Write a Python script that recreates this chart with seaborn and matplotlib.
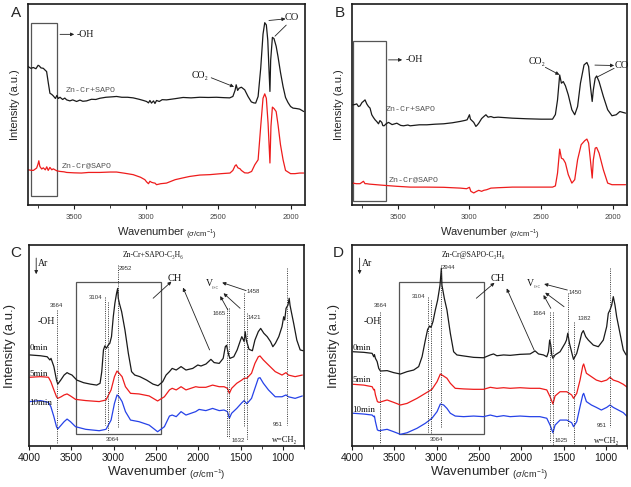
import matplotlib
matplotlib.use('Agg')
import matplotlib.pyplot as plt
import seaborn as sns
import pandas as pd
from matplotlib.patches import Rectangle

# ---- panel A: CO adsorption (black = Zn-Cr+SAPO, red = Zn-Cr@SAPO) ----
a_wn_k = [3820, 3800, 3783, 3765, 3750, 3742, 3730, 3714, 3700, 3691,
          3679, 3668, 3655, 3645, 3630, 3620, 3610, 3598, 3580, 3565,
          3552, 3530, 3510, 3483, 3460, 3440, 3414, 3380, 3350, 3322,
          3280, 3240, 3206, 3170, 3130, 3091, 3050, 3020, 2998, 2985,
          2975, 2964, 2950, 2940, 2929, 2910, 2890, 2860, 2800, 2745,
          2690, 2629, 2570, 2514, 2460, 2422, 2400, 2385, 2377, 2367,
          2357, 2341, 2318, 2295, 2272, 2255, 2242, 2225, 2207, 2191,
          2179, 2168, 2158, 2150, 2143, 2138, 2126, 2115, 2100, 2087,
          2070, 2052, 2035, 2018, 2000, 1983, 1960, 1937, 1920, 1909]
a_int_k = [68.9, 68.0, 68.4, 67.8, 69.5, 69.2, 68.2, 68.0, 67.0, 66.4,
           60.6, 55.6, 55.0, 54.3, 53.0, 54.5, 53.0, 53.6, 52.5, 53.2,
           52.3, 51.8, 52.3, 51.5, 52.2, 51.6, 51.8, 52.6, 52.5, 53.1,
           53.6, 53.8, 54.0, 53.6, 53.6, 53.3, 52.6, 52.0, 51.5, 50.8,
           52.0, 50.7, 51.8, 50.5, 52.0, 51.5, 52.4, 52.3, 52.9, 53.5,
           53.3, 53.6, 53.5, 53.6, 53.4, 53.3, 54.0, 57.0, 59.8, 57.0,
           58.1, 58.6, 57.3, 54.0, 51.3, 50.8, 50.7, 54.0, 68.0, 85.0,
           90.7, 89.6, 82.0, 68.0, 56.5, 72.0, 83.4, 82.8, 79.0, 73.8,
           66.0, 58.9, 53.5, 51.0, 49.0, 48.2, 48.0, 47.7, 47.0, 46.5]
a_wn_r = [3820, 3800, 3783, 3760, 3750, 3745, 3738, 3725, 3714, 3700,
          3690, 3680, 3668, 3655, 3645, 3620, 3598, 3570, 3552, 3500,
          3450, 3400, 3322, 3250, 3206, 3150, 3091, 3040, 3010, 2998,
          2985, 2975, 2964, 2950, 2940, 2929, 2900, 2860, 2800, 2745,
          2700, 2629, 2560, 2480, 2420, 2400, 2385, 2377, 2365, 2350,
          2341, 2318, 2295, 2270, 2248, 2225, 2207, 2191, 2179, 2168,
          2156, 2143, 2136, 2126, 2115, 2100, 2087, 2070, 2052, 2035,
          2000, 1970, 1937, 1909]
a_int_r = [17.5, 17.3, 17.2, 18.4, 20.5, 22.0, 19.2, 17.9, 18.5, 17.5,
           19.0, 17.2, 18.7, 17.5, 18.0, 17.0, 16.7, 16.5, 16.2, 16.0,
           15.9, 16.2, 16.2, 16.4, 16.4, 15.8, 15.1, 13.8, 12.6, 11.5,
           10.6, 11.8, 11.3, 11.0, 10.9, 10.1, 10.6, 10.9, 12.6, 13.5,
           14.2, 14.9, 15.1, 15.6, 15.9, 17.2, 19.5, 20.0, 18.5, 18.0,
           17.2, 16.0, 15.9, 16.7, 20.0, 22.5, 39.1, 53.1, 55.3, 53.1,
           40.7, 20.9, 39.1, 48.7, 48.0, 46.5, 40.0, 30.0, 22.5, 17.2,
           15.6, 15.6, 15.9, 15.9]

# ---- panel B: CO + CO2 adsorption ----
b_wn_k = [3815, 3800, 3787, 3775, 3764, 3750, 3741, 3729, 3717, 3705,
          3694, 3682, 3670, 3659, 3647, 3635, 3625, 3612, 3605, 3596,
          3580, 3565, 3540, 3507, 3480, 3460, 3430, 3414, 3350, 3297,
          3240, 3180, 3120, 3063, 3030, 3016, 3000, 2993, 2970, 2955,
          2945, 2935, 2915, 2900, 2885, 2870, 2850, 2830, 2800, 2700,
          2600, 2500, 2420, 2400, 2385, 2370, 2358, 2345, 2330, 2310,
          2285, 2265, 2245, 2225, 2200, 2180, 2168, 2155, 2143, 2135,
          2122, 2112, 2095, 2065, 2035, 2005, 1975, 1950, 1910]
b_int_k = [49.8, 50.0, 50.3, 49.0, 49.3, 51.0, 51.5, 52.3, 50.3, 49.0,
           48.2, 44.9, 43.5, 42.4, 41.5, 40.4, 42.0, 41.1, 39.5, 39.4,
           40.5, 41.1, 40.0, 40.7, 39.6, 39.4, 39.8, 39.4, 39.9, 39.9,
           40.2, 40.4, 40.9, 41.6, 42.1, 42.4, 44.9, 42.7, 41.1, 39.1,
           39.8, 40.7, 43.0, 44.0, 44.9, 43.7, 44.0, 43.5, 43.7, 43.2,
           42.9, 42.7, 42.7, 45.0, 52.3, 64.7, 60.6, 61.4, 59.3, 54.8,
           47.4, 44.9, 49.0, 60.6, 69.7, 70.9, 68.9, 58.9, 51.5, 57.3,
           63.1, 64.2, 61.4, 54.0, 47.4, 44.4, 44.9, 46.5, 45.7]
b_wn_r = [3815, 3790, 3764, 3750, 3740, 3729, 3717, 3700, 3650, 3600,
          3507, 3414, 3300, 3180, 3063, 3020, 3000, 2990, 2970, 2950,
          2935, 2915, 2900, 2880, 2850, 2800, 2700, 2500, 2420, 2400,
          2385, 2370, 2358, 2345, 2330, 2310, 2285, 2265, 2245, 2220,
          2195, 2180, 2168, 2155, 2143, 2135, 2122, 2112, 2095, 2065,
          2035, 2005, 1960, 1910]
b_int_r = [10.9, 10.6, 10.6, 11.3, 11.8, 10.6, 10.6, 10.4, 10.1, 9.8,
           9.3, 8.9, 8.9, 8.8, 8.4, 8.1, 8.8, 6.8, 6.0, 6.8,
           7.3, 6.8, 7.3, 7.6, 8.4, 8.6, 8.9, 8.9, 8.9, 9.5,
           15.9, 27.8, 23.3, 22.8, 20.9, 15.1, 10.9, 12.6, 22.5, 30.0,
           32.0, 32.8, 30.8, 22.0, 13.4, 22.5, 28.3, 28.6, 25.8, 17.5,
           10.9, 10.1, 10.1, 10.1]

# ---- panel C: Zn-Cr+SAPO-C3H6, 0 / 5 / 10 min ----
c_wn_k = [3990, 3865, 3785, 3753, 3740, 3706, 3675, 3660, 3625, 3585,
          3550, 3530, 3492, 3435, 3355, 3277, 3200, 3160, 3140, 3120,
          3104, 3085, 3064, 3045, 3025, 3004, 2985, 2965, 2952, 2945,
          2932, 2905, 2866, 2826, 2788, 2750, 2690, 2610, 2535, 2475,
          2420, 2380, 2340, 2308, 2260, 2203, 2145, 2065, 2005, 1967,
          1908, 1850, 1812, 1752, 1705, 1680, 1665, 1655, 1640, 1625,
          1580, 1540, 1500, 1485, 1470, 1458, 1445, 1432, 1400, 1360,
          1330, 1290, 1262, 1225, 1185, 1145, 1118, 1088, 1048, 1010,
          990, 978, 962, 940, 925, 915, 900, 872, 835, 795,
          760]
c_int_k = [45.3, 44.9, 44.4, 42.8, 43.6, 39.5, 32.8, 30.8, 32.8, 35.3,
           36.5, 36.0, 35.3, 32.8, 31.5, 30.8, 30.3, 31.2, 37.0, 47.8,
           49.8, 48.6, 50.2, 51.1, 54.4, 64.3, 71.0, 76.0, 78.4, 73.5,
           71.0, 66.8, 57.7, 46.1, 37.0, 35.3, 34.5, 32.8, 30.8, 30.0,
           32.0, 35.3, 37.0, 38.6, 37.8, 39.5, 37.8, 38.6, 40.3, 39.8,
           40.8, 43.1, 41.5, 41.1, 43.6, 49.4, 50.1, 48.1, 45.3, 43.6,
           44.4, 47.8, 52.7, 54.4, 53.1, 52.0, 56.9, 52.7, 48.1, 47.4,
           52.7, 56.9, 58.5, 56.1, 54.4, 51.9, 49.4, 51.1, 54.4, 59.4,
           64.3, 62.7, 68.5, 70.1, 73.5, 70.0, 66.8, 61.0, 52.7, 47.8,
           47.4]
c_wn_t = [3990, 3865, 3770, 3742, 3706, 3675, 3660, 3620, 3585, 3550,
          3510, 3450, 3330, 3170, 3090, 3030, 2990, 2960, 2935, 2900,
          2860, 2800, 2700, 2580, 2480, 2400, 2340, 2308, 2260, 2203,
          2145, 2030, 1990, 1910, 1830, 1752, 1695, 1655, 1632, 1605,
          1545, 1485, 1458, 1425, 1370, 1330, 1290, 1270, 1230, 1170,
          1090, 1010, 963, 935, 855, 770]
c_int_r = [34.2, 34.5, 34.2, 32.0, 27.9, 24.5, 23.7, 24.5, 25.4, 25.9,
           24.9, 23.2, 22.6, 22.1, 22.9, 27.9, 34.5, 37.3, 36.2, 34.5,
           29.5, 26.2, 25.9, 24.9, 22.4, 24.5, 27.9, 28.7, 27.9, 29.5,
           27.9, 29.5, 29.2, 29.2, 30.3, 29.5, 29.5, 28.7, 26.2, 28.7,
           31.2, 32.8, 33.7, 33.7, 36.2, 41.1, 44.4, 44.8, 42.8, 40.3,
           37.0, 35.3, 36.5, 35.3, 34.5, 35.3]
c_int_b = [22.1, 22.6, 21.7, 19.6, 14.6, 9.6, 8.5, 10.4, 12.1, 13.4,
           12.1, 9.6, 8.3, 7.6, 8.3, 12.9, 21.2, 25.4, 24.5, 22.1,
           17.1, 12.9, 12.1, 10.4, 7.1, 9.6, 14.9, 15.4, 14.6, 17.1,
           15.4, 17.1, 18.2, 17.6, 18.7, 17.6, 17.9, 17.1, 13.8, 16.3,
           18.7, 21.5, 22.6, 21.0, 23.7, 28.7, 33.7, 34.0, 31.2, 27.9,
           24.5, 24.5, 25.4, 24.5, 23.7, 24.9]
c_marks = [3664, 3104, 3064, 2952, 1665, 1632, 1458, 1421, 951]

# ---- panel D: Zn-Cr@SAPO-C3H6, 0 / 5 / 10 min ----
d_wn_k = [3986, 3861, 3762, 3743, 3735, 3723, 3703, 3684, 3664, 3585,
          3507, 3428, 3349, 3271, 3212, 3172, 3133, 3106, 3082, 3066,
          3043, 3015, 2988, 2960, 2944, 2937, 2909, 2878, 2838, 2799,
          2760, 2681, 2563, 2445, 2366, 2327, 2288, 2209, 2131, 2013,
          1895, 1836, 1796, 1737, 1698, 1678, 1664, 1651, 1639, 1625,
          1600, 1541, 1482, 1465, 1450, 1430, 1396, 1382, 1344, 1313,
          1285, 1266, 1238, 1207, 1148, 1089, 1030, 990, 971, 951,
          931, 912, 892, 872, 833, 794, 760]
d_int_k = [46.9, 46.6, 46.1, 44.4, 45.5, 43.6, 42.0, 38.6, 37.3, 37.5,
           36.5, 35.8, 37.0, 37.8, 39.5, 44.4, 52.7, 58.0, 59.7, 59.0,
           61.9, 67.7, 72.6, 80.0, 88.5, 80.0, 73.5, 67.7, 56.1, 46.9,
           45.3, 44.8, 44.1, 43.9, 45.3, 45.8, 44.9, 45.3, 45.1, 45.6,
           45.8, 47.3, 45.8, 45.3, 44.4, 46.9, 52.7, 50.2, 45.3, 43.6,
           45.3, 46.9, 51.1, 52.7, 56.1, 51.1, 45.3, 43.1, 46.1, 51.1,
           56.1, 57.4, 54.4, 52.7, 50.2, 49.4, 52.7, 59.4, 66.0, 67.7,
           70.1, 74.3, 70.1, 64.3, 56.1, 47.8, 45.3]
d_wn_t = [3986, 3861, 3762, 3743, 3735, 3723, 3700, 3680, 3585, 3507,
          3428, 3349, 3232, 3133, 3055, 2995, 2956, 2917, 2878, 2838,
          2780, 2681, 2563, 2445, 2366, 2288, 2209, 2131, 2013, 1895,
          1780, 1698, 1659, 1625, 1600, 1541, 1462, 1404, 1382, 1344,
          1305, 1273, 1262, 1230, 1171, 1112, 1053, 990, 951, 912,
          853, 794, 746]
d_int_r = [30.7, 30.3, 29.5, 27.9, 28.2, 25.4, 22.1, 21.7, 22.9, 21.7,
           20.4, 21.2, 23.7, 26.2, 28.2, 32.0, 35.8, 34.8, 33.7, 31.2,
           28.7, 28.4, 28.2, 28.2, 29.2, 28.7, 29.0, 28.7, 29.0, 28.7,
           28.7, 27.9, 24.5, 20.9, 24.9, 27.0, 27.0, 25.4, 23.7, 26.2,
           32.8, 39.8, 40.8, 36.2, 34.5, 32.8, 32.0, 32.8, 34.2, 32.8,
           32.0, 30.7, 29.2]
d_int_b = [16.3, 15.9, 15.4, 14.6, 14.9, 12.1, 8.0, 7.6, 8.3, 7.1,
           5.8, 6.6, 8.8, 11.3, 13.8, 17.1, 20.9, 20.4, 18.7, 16.3,
           14.9, 14.6, 14.9, 14.6, 15.4, 14.6, 15.1, 14.6, 14.9, 14.6,
           14.6, 13.8, 10.4, 6.6, 10.4, 12.9, 12.9, 11.6, 9.6, 12.1,
           19.6, 25.4, 26.2, 22.1, 20.4, 19.2, 17.9, 19.2, 20.4, 19.2,
           17.9, 16.6, 14.6]
d_marks = [3664, 3104, 3064, 2944, 1664, 1625, 1450, 1382, 951]

top_ticks = [3500, 3000, 2500, 2000]
top_minor = [3750, 3250, 2750, 2250]
bot_ticks = [4000, 3500, 3000, 2500, 2000, 1500, 1000]
bot_minor = [3750, 3250, 2750, 2250, 1750, 1250, 750]

sns.set_theme(style='ticks')
plt.rcParams['font.family'] = ['Liberation Sans', 'DejaVu Sans']
plt.rcParams['mathtext.fontset'] = 'custom'
plt.rcParams['mathtext.rm'] = 'Liberation Sans'
plt.rcParams['mathtext.it'] = 'Liberation Sans:italic'
SERIF = ['Liberation Serif', 'DejaVu Serif']
MONO = ['Liberation Mono', 'DejaVu Sans Mono']
RED = '#ee1c1c'
BLUE = '#2642e8'


def draw(ax, wn, inten, color):
    df = pd.DataFrame({'wn': wn, 'inten': inten})
    sns.lineplot(data=df, x='wn', y='inten', color=color, linewidth=0.9,
                 sort=False, estimator=None, ax=ax)


def style(ax, xlim, major, minor, tsize, tcolor, lsize, ypad, xpad, tpad):
    ax.set_xlim(*xlim)
    ax.set_ylim(0, 100)
    ax.set_xticks(major)
    ax.set_xticklabels([str(t) for t in major])
    ax.set_xticks(minor, minor=True)
    ax.set_yticks([])
    ax.tick_params(axis='x', which='major', direction='out', length=3, width=0.8,
                   labelsize=tsize, labelcolor=tcolor, pad=tpad, color='k')
    ax.tick_params(axis='x', which='minor', direction='out', length=1.8, width=0.6, color='k')
    for s in ax.spines.values():
        s.set_linewidth(1.2)
        s.set_color('k')
    ax.set_xlabel(r'Wavenumber $_{(\sigma/\mathrm{cm}^{-1})}$', fontsize=lsize, labelpad=xpad)
    ax.set_ylabel('Intensity (a.u.)', fontsize=lsize, labelpad=ypad)


def serif(ax, x, y, s, size=7, ha='center'):
    ax.text(x, y, s, fontsize=size, family=SERIF, ha=ha, va='center', color='#111')


def num(ax, x, y, s, ha='center'):
    ax.text(x, y, s, fontsize=4.3, ha=ha, va='center', color='#333')


def mono(ax, x, y, s):
    ax.text(x, y, s, fontsize=6, family=MONO, ha='left', va='center', color='#555')


def arrow(ax, start, end, head=True):
    ax.annotate('', xy=end, xytext=start,
                arrowprops=dict(arrowstyle='-|>' if head else '-', color='#222', lw=0.6,
                                mutation_scale=5, shrinkA=0, shrinkB=0))


def dotted(ax, x, y0, y1):
    ax.plot([x, x], [y0, y1], ls=(0, (1, 1.3)), color='#333', lw=0.7)


def box(ax, x0, x1, y0, y1):
    ax.add_patch(Rectangle((x1, y0), x0 - x1, y1 - y0, fill=False, ec='#555', lw=0.9))


fig = plt.figure(figsize=(6.31, 4.87), dpi=100)
W, H = 631.0, 487.0
axA = fig.add_axes([28 / W, 1 - 205 / H, 277 / W, 201 / H])
axB = fig.add_axes([352 / W, 1 - 205 / H, 275 / W, 201 / H])
axC = fig.add_axes([29 / W, 1 - 446 / H, 275 / W, 201 / H])
axD = fig.add_axes([352 / W, 1 - 446 / H, 275 / W, 201 / H])

# A
draw(axA, a_wn_k, a_int_k, 'k')
draw(axA, a_wn_r, a_int_r, RED)
style(axA, (3820, 1900), top_ticks, top_minor, 5.5, '#444', 8, 6, 3.5, 3.5)
box(axA, 3799, 3617, 4.6, 90.4)
arrow(axA, (3598, 84.9), (3500, 84.9))
serif(axA, 3485, 84.9, '-OH', ha='left')
mono(axA, 3559, 57.0, 'Zn-Cr+SAPO')
mono(axA, 3587, 19.7, 'Zn-Cr@SAPO')
serif(axA, 2629, 64.2, 'CO₂')
arrow(axA, (2550, 63.3), (2392, 58.8))
serif(axA, 1995, 93.4, 'CO', size=7.5)
arrow(axA, (2150, 91.8), (2035, 92.6))
arrow(axA, (2108, 84.0), (2030, 89.5), head=False)

# B
draw(axB, b_wn_k, b_int_k, 'k')
draw(axB, b_wn_r, b_int_r, RED)
style(axB, (3820, 1900), top_ticks, top_minor, 5.5, '#444', 8, 6, 3.5, 3.5)
box(axB, 3811, 3586, 2.2, 81.8)
arrow(axB, (3565, 72.2), (3470, 72.2))
serif(axB, 3445, 72.2, '-OH', ha='left')
mono(axB, 3582, 47.7, 'Zn-Cr+SAPO')
mono(axB, 3565, 12.6, 'Zn-Cr@SAPO')
serif(axB, 2526, 71.4, 'CO₂')
arrow(axB, (2470, 68.5), (2372, 64.8))
arrow(axB, (2124, 69.6), (1990, 69.4))
arrow(axB, (2110, 63.6), (1990, 68.0), head=False)
serif(axB, 1988, 69.2, 'CO', size=7.5, ha='left')

# C
draw(axC, c_wn_k, c_int_k, 'k')
draw(axC, c_wn_t, c_int_r, RED)
draw(axC, c_wn_t, c_int_b, BLUE)
style(axC, (4000, 755), bot_ticks, bot_minor, 7.5, 'k', 9.5, 9, 1, 2)
c_span = [(67.7, 1.3), (74.0, 10.4), (71.8, 7.1), (90.0, 8.8), (68.5, 4.6),
          (68.5, 3.8), (76.0, 9.6), (66.0, 3.0), (88.4, 10.4)]
for x, (y0, y1) in zip(c_marks, c_span):
    dotted(axC, x, y0, y1)
box(axC, 3444, 2435, 6.0, 81.4)
serif(axC, 2533, 95.0, 'Zn-Cr+SAPO-C₃H₆', size=5.5)
arrow(axC, (3915, 93.5), (3915, 85.5))
serif(axC, 3892, 91.0, 'Ar', ha='left')
num(axC, 3672, 69.7, '3664')
serif(axC, 3790, 61.9, '-OH')
num(axC, 3213, 73.8, '3104')
num(axC, 3016, 3.0, '3064')
num(axC, 2945, 88.1, '2952', ha='left')
serif(axC, 2278, 83.4, 'CH', size=7.5)
arrow(axC, (2533, 73.5), (2317, 81.8))
arrow(axC, (1866, 47.8), (2180, 78.8))
serif(axC, 1874, 80.6, 'V', size=7)
axC.text(1835, 78.6, 'C=C', fontsize=2.8, family=SERIF, ha='left', va='center')
arrow(axC, (1434, 77.3), (1717, 81.3))
arrow(axC, (1505, 68.5), (1701, 76.0))
arrow(axC, (1650, 67.7), (1740, 74.6))
num(axC, 1348, 76.8, '1458')
num(axC, 1748, 66.0, '1665')
num(axC, 1336, 64.0, '1421')
num(axC, 1532, 2.7, '1632')
num(axC, 1061, 10.8, '951')
serif(axC, 983, 3.0, 'w=CH₂', size=6)
serif(axC, 3992, 48.6, '0min', size=6.5, ha='left')
serif(axC, 3992, 35.8, '5min', size=6.5, ha='left')
serif(axC, 3992, 21.6, '10min', size=6.5, ha='left')

# D
draw(axD, d_wn_k, d_int_k, 'k')
draw(axD, d_wn_t, d_int_r, RED)
draw(axD, d_wn_t, d_int_b, BLUE)
style(axD, (4000, 755), bot_ticks, bot_minor, 7.5, 'k', 9.5, 9, 1, 2)
d_span = [(66.5, 1.0), (74.3, 6.3), (72.6, 6.3), (90.0, 9.0), (66.8, 2.1),
          (66.8, 0.6), (76.0, 9.6), (61.9, 0.5), (88.4, 9.6)]
for x, (y0, y1) in zip(d_marks, d_span):
    dotted(axD, x, y0, y1)
box(axD, 3448, 2440, 6.0, 81.4)
serif(axD, 2571, 95.0, 'Zn-Cr@SAPO-C₃H₆', size=5.5)
arrow(axD, (3910, 93.5), (3910, 85.5))
serif(axD, 3885, 91.0, 'Ar', ha='left')
num(axD, 3659, 69.8, '3664')
serif(axD, 3765, 61.8, '-OH')
num(axD, 3209, 74.3, '3104')
num(axD, 3002, 3.0, '3064')
num(axD, 2935, 88.9, '2944', ha='left')
serif(axD, 2277, 83.4, 'CH', size=7.5)
arrow(axD, (2531, 73.5), (2316, 81.2))
arrow(axD, (1846, 47.6), (2172, 78.4))
serif(axD, 1886, 80.9, 'V', size=7)
axD.text(1846, 78.9, 'C=C', fontsize=2.8, family=SERIF, ha='left', va='center')
arrow(axD, (1455, 77.6), (1729, 80.6))
arrow(axD, (1494, 69.3), (1717, 76.3))
arrow(axD, (1650, 68.5), (1737, 75.1))
num(axD, 1357, 76.3, '1450')
num(axD, 1788, 65.7, '1664')
num(axD, 1259, 63.2, '1382')
num(axD, 1532, 2.5, '1625')
num(axD, 1044, 10.1, '951')
serif(axD, 985, 2.5, 'w=CH₂', size=6)
serif(axD, 3992, 48.6, '0min', size=6.5, ha='left')
serif(axD, 3992, 32.8, '5min', size=6.5, ha='left')
serif(axD, 3992, 17.9, '10min', size=6.5, ha='left')

for letter, px, py in [('A', 16, 13), ('B', 340, 13), ('C', 16, 253), ('D', 338, 253)]:
    fig.text(px / W, 1 - py / H, letter, fontsize=11, ha='center', va='center')

fig.savefig('out.png', dpi=100)
